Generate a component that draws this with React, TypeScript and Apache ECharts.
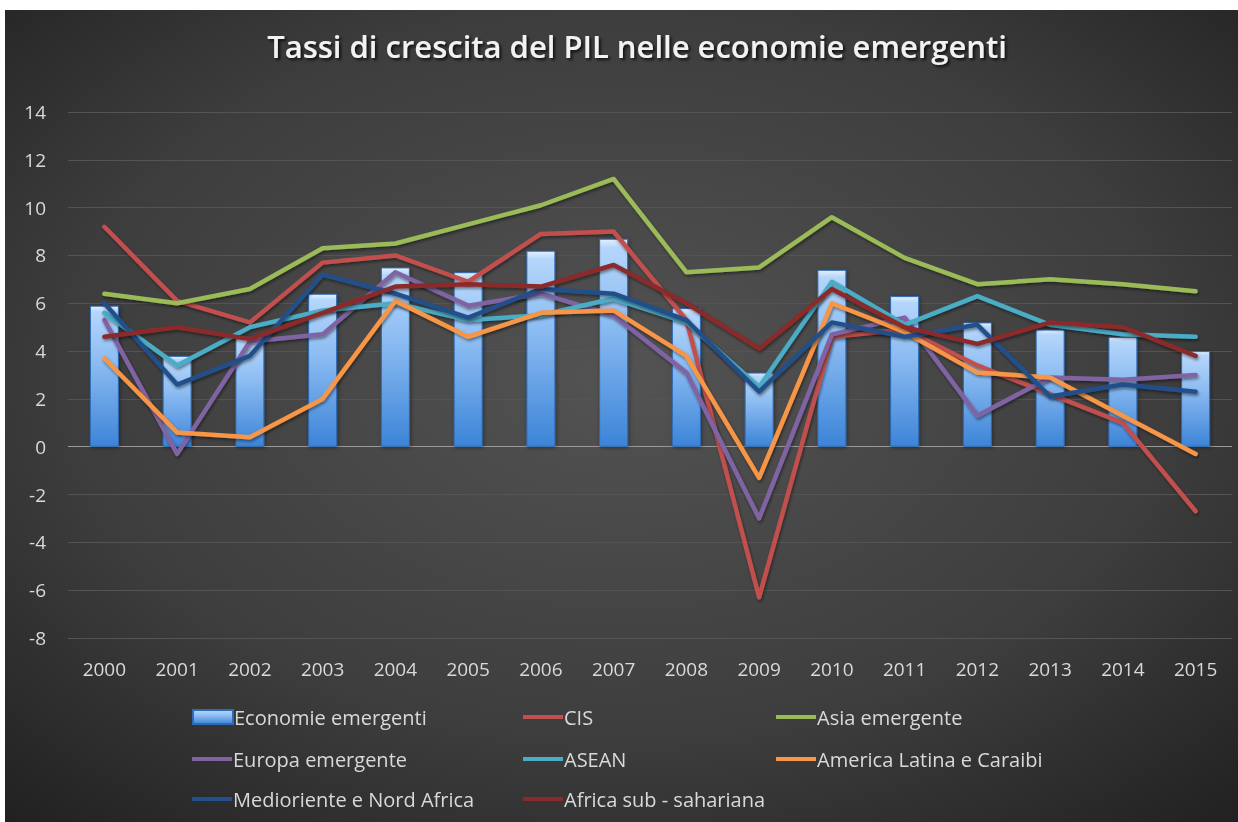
import React, { useEffect, useRef } from "react";
import * as echarts from "echarts";

const years = ["2000","2001","2002","2003","2004","2005","2006","2007","2008","2009","2010","2011","2012","2013","2014","2015"];
const economieEmergenti = [5.9, 3.8, 4.6, 6.4, 7.5, 7.3, 8.2, 8.7, 5.8, 3.1, 7.4, 6.3, 5.2, 4.9, 4.6, 4.0];
const cis = [9.2, 6.1, 5.2, 7.7, 8.0, 6.9, 8.9, 9.0, 5.3, -6.3, 4.6, 4.9, 3.4, 2.2, 1.0, -2.7];
const asiaEmergente = [6.4, 6.0, 6.6, 8.3, 8.5, 9.3, 10.1, 11.2, 7.3, 7.5, 9.6, 7.9, 6.8, 7.0, 6.8, 6.5];
const europaEmergente = [5.3, -0.3, 4.4, 4.7, 7.3, 5.9, 6.4, 5.5, 3.1, -3.0, 4.7, 5.4, 1.3, 2.9, 2.8, 3.0];
const asean = [5.6, 3.4, 5.0, 5.7, 6.0, 5.3, 5.5, 6.2, 5.2, 2.5, 6.9, 5.1, 6.3, 5.1, 4.7, 4.6];
const americaLatina = [3.7, 0.6, 0.4, 2.0, 6.1, 4.6, 5.6, 5.7, 3.8, -1.3, 6.0, 4.8, 3.1, 2.9, 1.3, -0.3];
const medioriente = [6.0, 2.6, 3.8, 7.2, 6.4, 5.4, 6.6, 6.4, 5.3, 2.3, 5.2, 4.6, 5.1, 2.1, 2.6, 2.3];
const africaSub = [4.6, 5.0, 4.5, 5.6, 6.7, 6.8, 6.7, 7.6, 6.0, 4.1, 6.6, 5.0, 4.3, 5.2, 5.0, 3.8];

const lineSeries = [
  { name: "CIS", data: cis, color: "#c0504d" },
  { name: "Asia emergente", data: asiaEmergente, color: "#9bbb59" },
  { name: "Europa emergente", data: europaEmergente, color: "#8064a2" },
  { name: "ASEAN", data: asean, color: "#4bacc6" },
  { name: "America Latina e Caraibi", data: americaLatina, color: "#f79646" },
  { name: "Medioriente e Nord Africa", data: medioriente, color: "#24508a" },
  { name: "Africa sub - sahariana", data: africaSub, color: "#8a2a2a" },
];

const legendLayout = [
  { name: "Economie emergenti", left: 192, top: 707 },
  { name: "CIS", left: 523, top: 707 },
  { name: "Asia emergente", left: 776, top: 707 },
  { name: "Europa emergente", left: 192, top: 749 },
  { name: "ASEAN", left: 523, top: 749 },
  { name: "America Latina e Caraibi", left: 776, top: 749 },
  { name: "Medioriente e Nord Africa", left: 192, top: 789 },
  { name: "Africa sub - sahariana", left: 523, top: 789 },
];

const FONT = "'Open Sans', sans-serif";

export default function App() {
  const ref = useRef<HTMLDivElement>(null);
  useEffect(() => {
    if (!ref.current) return;
    const chart = echarts.init(ref.current, null, { renderer: "svg" });
    const gridColors = ["#545454", "#545454", "#545454", "#545454", "#9a9a9a", "#545454", "#545454", "#545454", "#545454", "#545454", "#545454", "#545454"];
    const option: any = {
      animation: false,
      graphic: [
        {
          type: "rect",
          z: -100,
          silent: true,
          shape: { x: 5, y: 10, width: 1233, height: 812 },
          style: {
            fill: new echarts.graphic.RadialGradient(0.5, 0.45, 0.75, [
              { offset: 0, color: "#535353" },
              { offset: 0.6, color: "#3d3d3d" },
              { offset: 1, color: "#202020" },
            ]),
          },
        },
      ],
      title: {
        text: "Tassi di crescita del PIL nelle economie emergenti",
        left: 632,
        textAlign: "center",
        top: 25,
        textStyle: {
          color: "#f2f2f2",
          fontFamily: FONT,
          fontSize: 31,
          fontWeight: 600,
          textShadowColor: "rgba(0,0,0,0.75)",
          textShadowBlur: 3,
          textShadowOffsetX: 2,
          textShadowOffsetY: 2,
        },
      },
      legend: legendLayout.map((l) => ({
        data: [l.name],
        left: l.left,
        top: l.top,
        itemWidth: 40,
        itemHeight: l.name === "Economie emergenti" ? 14 : 4,
        icon: "rect",
        padding: 0,
        textStyle: { color: "#d9d9d9", fontFamily: FONT, fontSize: 20, padding: [0, 0, 0, -4] },
        selectedMode: false,
      })),
      grid: { left: 68, right: 6, top: 112, bottom: 184, containLabel: false },
      xAxis: {
        type: "category",
        data: years,
        axisLine: { show: false, onZero: false },
        axisTick: { show: false },
        axisLabel: { color: "#d9d9d9", fontFamily: FONT, fontSize: 19, margin: 21 },
      },
      yAxis: {
        type: "value",
        min: -8,
        max: 14,
        interval: 2,
        axisLine: { show: false },
        axisTick: { show: false },
        axisLabel: { color: "#d9d9d9", fontFamily: FONT, fontSize: 19, margin: 22 },
        splitLine: { lineStyle: { color: gridColors, width: 1 } },
      },
      series: [
        {
          name: "Economie emergenti",
          type: "bar",
          data: economieEmergenti,
          barWidth: 29,
          itemStyle: {
            color: new echarts.graphic.LinearGradient(0, 0, 0, 1, [
              { offset: 0, color: "#e4f0fd" },
              { offset: 0.04, color: "#b5d6fb" },
              { offset: 0.4, color: "#8cbcf2" },
              { offset: 1, color: "#3c84d8" },
            ]),
            borderColor: "#2d6bb5",
            borderWidth: 1,
            shadowColor: "rgba(0,0,0,0.4)",
            shadowBlur: 4,
            shadowOffsetX: 1,
            shadowOffsetY: 1,
          },
        },
        ...lineSeries.map((s) => ({
          name: s.name,
          type: "line",
          data: s.data,
          symbol: "none",
          color: s.color,
          lineStyle: {
            color: s.color,
            width: 4.5,
            cap: "round",
            join: "round",
            shadowColor: "rgba(0,0,0,0.45)",
            shadowBlur: 3,
            shadowOffsetX: 1,
            shadowOffsetY: 2,
          },
        })),
      ],
    };
    chart.setOption(option);
    return () => chart.dispose();
  }, []);
  return <div ref={ref} style={{ position: "fixed", left: 0, top: 0, width: 1238, height: 822 }} />;
}
